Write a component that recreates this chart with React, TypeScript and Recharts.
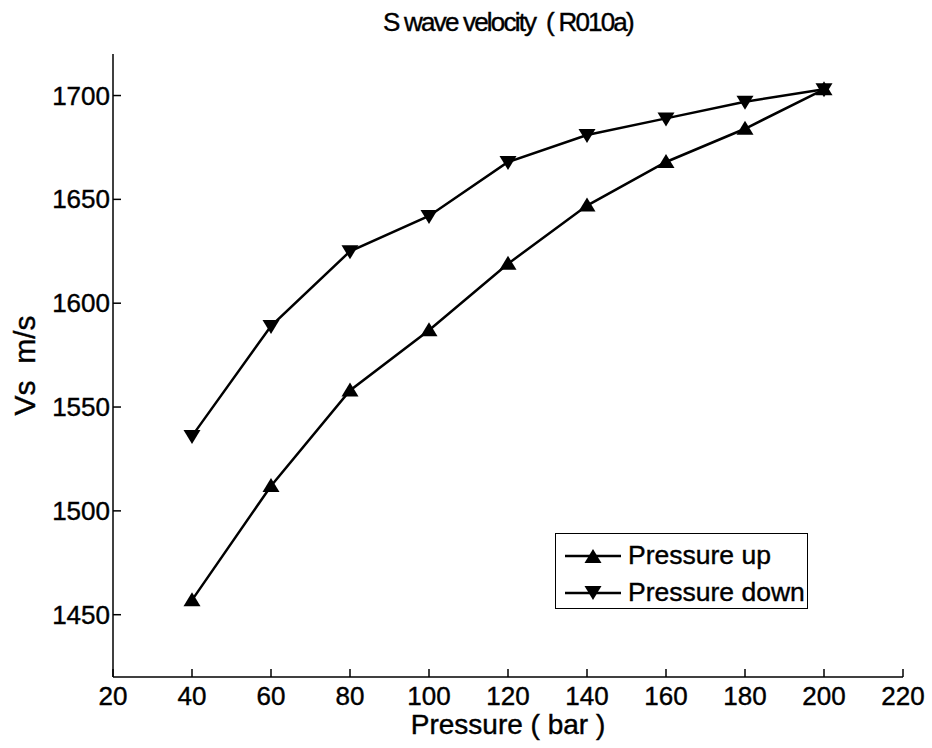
import React from "react";
import { LineChart, Line, XAxis, YAxis, Legend } from "recharts";

const pressure = [40, 60, 80, 100, 120, 140, 160, 180, 200];
const vsUp = [1457, 1512, 1558, 1587, 1619, 1647, 1668, 1684, 1703];
const vsDown = [1536, 1589, 1625, 1642, 1668, 1681, 1689, 1697, 1703];
const xTicks = [20, 40, 60, 80, 100, 120, 140, 160, 180, 200, 220];
const yTicks = [1450, 1500, 1550, 1600, 1650, 1700];
const seriesNames = ["Pressure up", "Pressure down"];

const data = pressure.map((p, i) => ({ p, up: vsUp[i], down: vsDown[i] }));

const W = 932;
const H = 748;
const PL = 113;
const PR = 903;
const PT = 54;
const PB = 677;
const FONT = "'Liberation Sans', Arial, Helvetica, sans-serif";
const TICK = 8;

function UpMarker(props: any) {
  const { cx, cy } = props;
  if (cx == null || cy == null) return null;
  return (
    <polygon
      points={`${cx},${cy - 8} ${cx - 8.5},${cy + 6} ${cx + 8.5},${cy + 6}`}
      fill="#000"
    />
  );
}

function DownMarker(props: any) {
  const { cx, cy } = props;
  if (cx == null || cy == null) return null;
  return (
    <polygon
      points={`${cx},${cy + 8} ${cx - 8.5},${cy - 6} ${cx + 8.5},${cy - 6}`}
      fill="#000"
    />
  );
}

function BottomTick(props: any) {
  const { x, payload } = props;
  return (
    <g>
      <line x1={x} y1={PB} x2={x} y2={PB - TICK} stroke="#000" strokeWidth={1.5} />
      <text x={x} y={PB + 28} textAnchor="middle" fontSize={26} fontFamily={FONT} fill="#000" stroke="#000" strokeWidth={0.4}>
        {payload.value}
      </text>
    </g>
  );
}

function TopTick(props: any) {
  const { x } = props;
  return <line x1={x} y1={PT} x2={x} y2={PT + TICK} stroke="#000" strokeWidth={1.5} />;
}

function LeftTick(props: any) {
  const { y, payload } = props;
  return (
    <g>
      <line x1={PL} y1={y} x2={PL + TICK} y2={y} stroke="#000" strokeWidth={1.5} />
      <text x={PL - 3} y={y + 9} textAnchor="end" fontSize={26} fontFamily={FONT} fill="#000" stroke="#000" strokeWidth={0.4}>
        {payload.value}
      </text>
    </g>
  );
}

function RightTick(props: any) {
  const { y } = props;
  return <line x1={PR} y1={y} x2={PR - TICK} y2={y} stroke="#000" strokeWidth={1.5} />;
}

function YLabel(props: any) {
  const { viewBox } = props;
  const cy = viewBox ? viewBox.y + viewBox.height / 2 : (PT + PB) / 2;
  return (
    <text
      x={0}
      y={0}
      transform={`translate(35, ${cy}) rotate(-90)`}
      textAnchor="middle"
      fontSize={30}
      fontFamily={FONT}
      fill="#000"
      stroke="#000"
      strokeWidth={0.4}
      style={{ whiteSpace: "pre" }}
    >
      {"Vs\u00A0\u00A0m/s"}
    </text>
  );
}

function XLabel(props: any) {
  const { viewBox } = props;
  const cx = viewBox ? viewBox.x + viewBox.width / 2 : (PL + PR) / 2;
  return (
    <text
      x={cx}
      y={734}
      textAnchor="middle"
      fontSize={28}
      fontFamily={FONT}
      fill="#000"
      stroke="#000"
      strokeWidth={0.4}
    >
      Pressure ( bar )
    </text>
  );
}

function LegendBox() {
  const rows = [
    { name: seriesNames[0], up: true },
    { name: seriesNames[1], up: false },
  ];
  return (
    <div
      style={{
        width: 253,
        height: 76,
        border: "1px solid #000",
        background: "#fff",
        boxSizing: "border-box",
        fontFamily: FONT,
        fontSize: 26.5,
        paddingTop: 3,
        WebkitTextStroke: "0.4px #000",
      }}
    >
      {rows.map((r) => (
        <div key={r.name} style={{ display: "flex", alignItems: "center", height: 37 }}>
          <svg width={72} height={20}>
            <line x1={9} y1={10} x2={65} y2={10} stroke="#000" strokeWidth={2.5} />
            {r.up ? (
              <polygon points="37,3 28.5,17 45.5,17" fill="#000" />
            ) : (
              <polygon points="37,17 28.5,3 45.5,3" fill="#000" />
            )}
          </svg>
          <span style={{ color: "#000", whiteSpace: "nowrap" }}>{r.name}</span>
        </div>
      ))}
    </div>
  );
}

export default function App() {
  return (
    <div style={{ position: "absolute", left: 0, top: 0, width: W, height: H, background: "#fff" }}>
      <div
        style={{
          position: "absolute",
          left: PL,
          width: PR - PL,
          top: 7,
          textAlign: "center",
          fontFamily: FONT,
          fontSize: 26,
          letterSpacing: -1.8,
          color: "#000",
          whiteSpace: "pre",
          WebkitTextStroke: "0.4px #000",
        }}
      >
        {"S wave velocity  ( R010a)"}
      </div>
      <LineChart
        width={W}
        height={H}
        data={data}
        margin={{ top: PT, right: W - PR, left: PL - 60, bottom: H - PB - 40 }}
      >
        <XAxis
          dataKey="p"
          type="number"
          domain={[20, 220]}
          ticks={xTicks}
          interval={0}
          height={40}
          axisLine={{ stroke: "#000", strokeWidth: 1.5 }}
          tickLine={false}
          tick={<BottomTick />}
          label={<XLabel />}
        />
        <XAxis
          xAxisId="top"
          dataKey="p"
          type="number"
          orientation="top"
          domain={[20, 220]}
          ticks={xTicks}
          interval={0}
          height={0}
          axisLine={{ stroke: "#000", strokeWidth: 1.5 }}
          tickLine={false}
          tick={<TopTick />}
        />
        <YAxis
          type="number"
          domain={[1420, 1720]}
          ticks={yTicks}
          interval={0}
          width={60}
          axisLine={{ stroke: "#000", strokeWidth: 1.5 }}
          tickLine={false}
          tick={<LeftTick />}
          label={<YLabel />}
        />
        <YAxis
          yAxisId="right"
          type="number"
          orientation="right"
          domain={[1420, 1720]}
          ticks={yTicks}
          interval={0}
          width={0}
          axisLine={{ stroke: "#000", strokeWidth: 1.5 }}
          tickLine={false}
          tick={<RightTick />}
        />
        <Legend
          layout="horizontal"
          verticalAlign="middle"
          align="center"
          wrapperStyle={{ left: 555, top: 533, width: 253, height: 76 }}
          content={() => <LegendBox />}
        />
        <Line
          dataKey="up"
          name={seriesNames[0]}
          stroke="#000"
          strokeWidth={2.5}
          dot={<UpMarker />}
          activeDot={false}
          isAnimationActive={false}
        />
        <Line
          dataKey="down"
          name={seriesNames[1]}
          stroke="#000"
          strokeWidth={2.5}
          dot={<DownMarker />}
          activeDot={false}
          isAnimationActive={false}
        />
      </LineChart>
    </div>
  );
}
